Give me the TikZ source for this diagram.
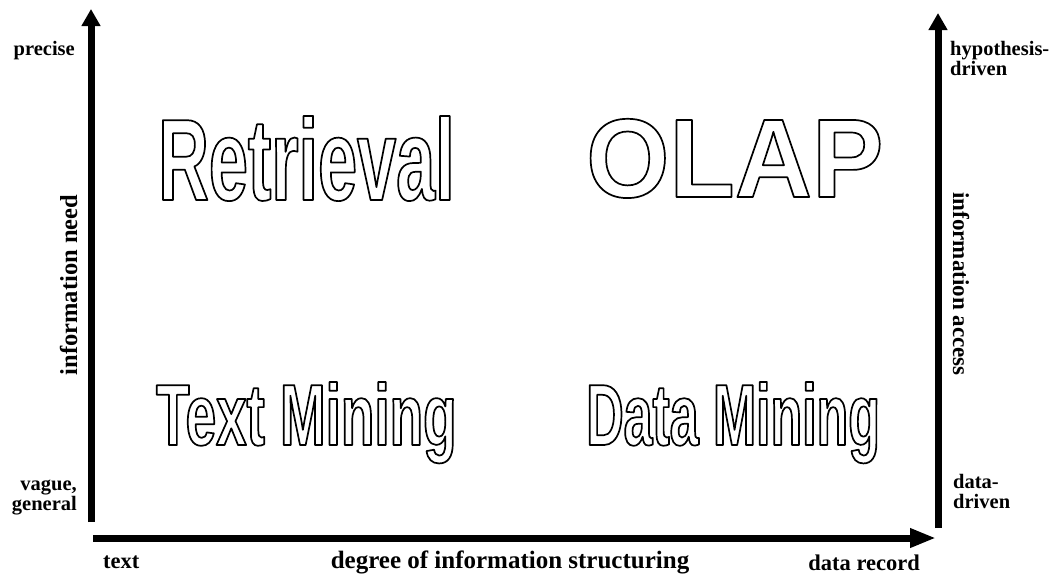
\documentclass[tikz,border=0pt]{standalone}
\usepackage{fontspec}
\setmainfont{Liberation Serif}
\newfontfamily\retrfont{Liberation Sans}[FakeStretch=0.605]
\newfontfamily\olapfont{Liberation Sans}[FakeStretch=0.955]
\newfontfamily\tmfont{Liberation Sans}[FakeStretch=0.63]
\newfontfamily\dmfont{Liberation Sans}[FakeStretch=0.596]
\usetikzlibrary{arrows.meta}
\newcommand\outl[1]{\special{pdf:literal direct 1 Tr 1.7 w 1 j}#1\special{pdf:literal direct 0 Tr}}
\tikzset{
  axisline/.style={line width=7pt},
  corner/.style={inner sep=0pt, font=\fontsize{20.5}{20}\selectfont\bfseries},
  axislabel/.style={inner sep=0pt, font=\fontsize{24.5}{24.5}\selectfont\bfseries},
  endlabel/.style={inner sep=0pt, font=\fontsize{22.5}{22.5}\selectfont\bfseries},
  bigword/.style={inner sep=0pt, anchor=base west}
}
\begin{document}
\begin{tikzpicture}[x=1pt,y=-1pt]
\useasboundingbox (0,0) rectangle (1054,573);
\fill[white] (0,0) rectangle (1054,573);
% axes
\coordinate (lb) at (91,522);
\coordinate (lt) at (91,9);
\coordinate (bl) at (93,538);
\coordinate (br) at (936,538);
\coordinate (rb) at (938,528);
\coordinate (rt) at (938,13);
\draw[axisline,-{Triangle[length=17pt,width=18pt]}] (lb) -- (lt);
\draw[axisline,-{Triangle[length=26pt,width=18pt]}] (bl) -- (br);
\draw[axisline,-{Triangle[length=17pt,width=18pt]}] (rb) -- (rt);
% corner labels
\node[corner,anchor=base east] (precise) at (75,55) {precise};
\node[corner,anchor=base east,align=right] (vague) at (77,510) {vague,\\general};
\node[corner,anchor=base west,align=left] (hypo) at (950,75) {hypothesis-\\driven};
\node[corner,anchor=base west,align=left] (datadriven) at (953,508) {data-\\driven};
% axis labels
\node[axislabel,anchor=base,rotate=90] (need) at (77,285) {information need};
\node[axislabel,anchor=base,rotate=-90,font=\fontsize{23}{23}\selectfont\bfseries] (access) at (953,284) {information access};
\node[axislabel,anchor=base,font=\fontsize{25}{25}\selectfont\bfseries] (degree) at (510,568) {degree of information structuring};
\node[endlabel,anchor=base west] (text) at (103,568) {text};
\node[endlabel,anchor=base east] (record) at (920,570) {data record};
% big outlined words
\node[bigword] (retrieval) at (158,200) {\retrfont\bfseries\fontsize{116}{116}\selectfont\outl{Retrieval}};
\node[bigword] (olap) at (586,197) {\olapfont\bfseries\fontsize{112}{112}\selectfont\outl{OLAP}};
\node[bigword] (textmining) at (156,445) {\tmfont\bfseries\fontsize{87}{87}\selectfont\outl{Text Mining}};
\node[bigword] (datamining) at (586,445) {\dmfont\bfseries\fontsize{87}{87}\selectfont\outl{Data Mining}};
\end{tikzpicture}
\end{document}
